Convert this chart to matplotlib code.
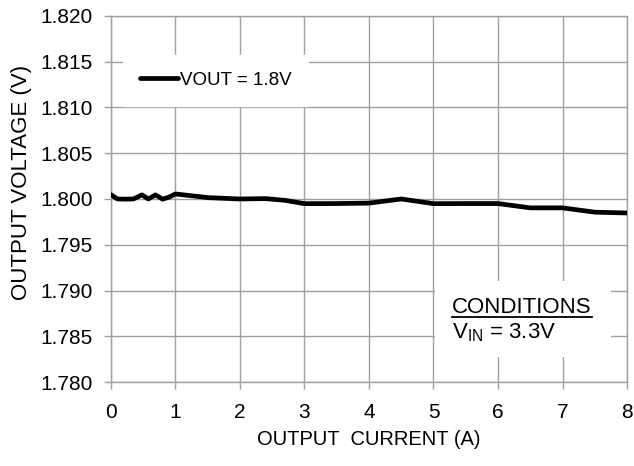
#输出电压-负载电流曲线
import numpy as np
import matplotlib.pyplot as plt
from matplotlib.lines import Line2D

#基本配置
plt.rcParams['font.family'] = ['Liberation Sans', 'DejaVu Sans']

#数据
current = [0.0, 0.1, 0.22, 0.35, 0.48, 0.58, 0.69, 0.8, 0.9, 1.0, 1.5, 2.0, 2.4, 2.7, 3.0,
           3.5, 4.0, 4.5, 5.0, 5.5, 6.0, 6.5, 7.0, 7.5, 8.0]
vout = [1.80047, 1.80000, 1.79998, 1.80000, 1.80045, 1.80000, 1.80045, 1.79998, 1.80020, 1.80055,
        1.80015, 1.80000, 1.80004, 1.79985, 1.79949,
        1.79950, 1.79955, 1.80000, 1.79949, 1.79950, 1.79950, 1.79903, 1.79903, 1.79856, 1.79847]
xticks = [0, 1, 2, 3, 4, 5, 6, 7, 8]
yticks = [1.780, 1.785, 1.790, 1.795, 1.800, 1.805, 1.810, 1.815, 1.820]
legend_label = 'VOUT = 1.8V'

grid_c = '#a0a0a0'

fig = plt.figure(figsize=(6.34, 4.66), dpi=100)
ax = fig.add_axes([0.175, 0.180, 0.814, 0.786])

ax.plot(current, vout, color='black', linewidth=3.4, solid_joinstyle='round',
        solid_capstyle='round', label=legend_label, zorder=3)

ax.set_xlim(0, 8)
ax.set_ylim(1.780, 1.820)
ax.set_xticks(xticks)
ax.set_yticks(yticks)
ax.set_yticklabels(['%.3f' % v for v in yticks])
ax.grid(True, color=grid_c, linewidth=1.0)
ax.set_axisbelow(True)
for s in ax.spines.values():
    s.set_color(grid_c)
    s.set_linewidth(1.0)
ax.tick_params(axis='both', direction='out', length=5, color=grid_c, width=1.0,
               labelsize=15, labelcolor='black')
ax.tick_params(axis='y', pad=8)
ax.tick_params(axis='x', pad=10)

ax.set_xlabel('OUTPUT  CURRENT (A)', fontsize=14.5, labelpad=6)
ax.set_ylabel('OUTPUT VOLTAGE (V)', fontsize=16)
ax.yaxis.set_label_coords(-0.153, 0.544)

leg = ax.legend(loc='center left', bbox_to_anchor=(0.024, 0.824), fontsize=13.5,
                handlelength=2.0, handletextpad=0.1, borderpad=0.9,
                frameon=True, fancybox=False, framealpha=1.0, borderaxespad=0)
leg.get_frame().set_edgecolor('white')
leg.get_frame().set_facecolor('white')

#条件标注
ax.add_patch(plt.Rectangle((5.03, 1.7827), 2.72, 0.0083, facecolor='white',
                           edgecolor='none', zorder=2))
ax.text(5.29, 1.7882, 'CONDITIONS', fontsize=16, va='center', ha='left', zorder=4)
ax.add_line(Line2D([5.29, 7.46], [1.7871, 1.7871], color='black', linewidth=1.3, zorder=4))
ax.text(5.29, 1.7854, r'$\mathregular{V_{IN}}$ = 3.3V', fontsize=16, va='center', ha='left', zorder=4)

plt.savefig('out.png', dpi=100)
